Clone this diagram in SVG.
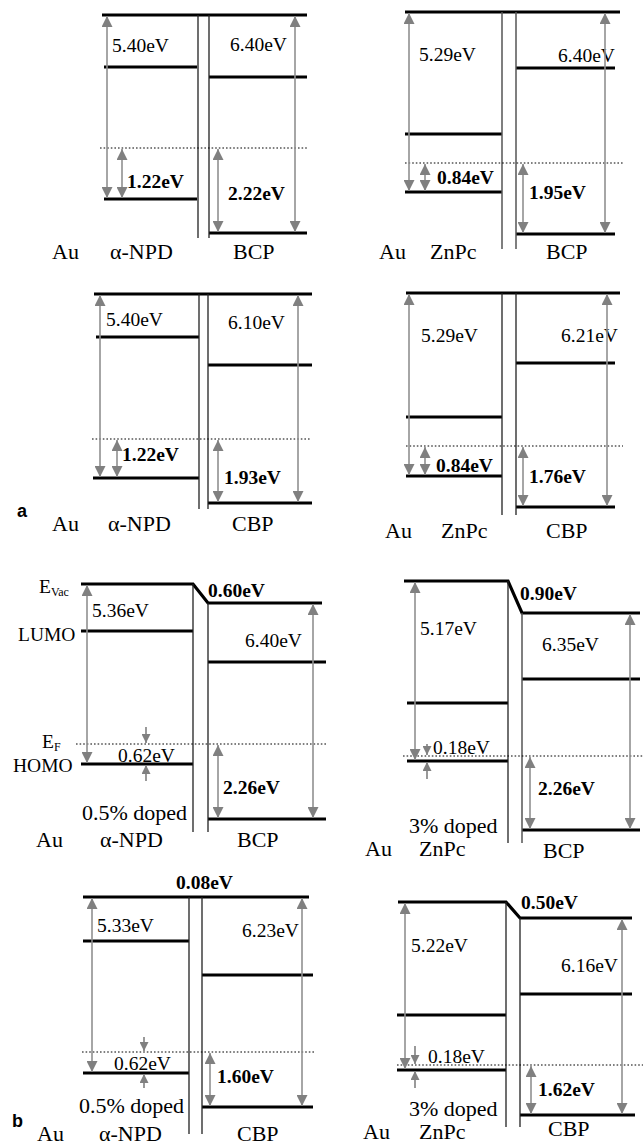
<svg xmlns="http://www.w3.org/2000/svg" width="643" height="1144" viewBox="0 0 643 1144">
<style>
.lv{stroke:#000;stroke-width:3.2;fill:none}
.vl{stroke:#222;stroke-width:1.3;fill:none}
.vg{stroke:#555;stroke-width:1.5;fill:none}
.dt{stroke:#000;stroke-width:1;stroke-dasharray:1.6,2;fill:none}
.ar{stroke:#909090;stroke-width:1.6;fill:none;marker-start:url(#ah);marker-end:url(#ah)}
.as{stroke:#808080;stroke-width:1.6;fill:none;marker-end:url(#ahs)}
text{font-family:"Liberation Serif","Times New Roman",serif;fill:#000}
.v{font-size:19.5px}
.b{font-size:19.5px;font-weight:bold}
.l{font-size:22px}
.s{font-size:19.5px}
.sub{font-size:12px}
.p{font-family:"Liberation Sans",Arial,sans-serif;font-weight:bold;font-size:18px}
</style>
<defs>
<marker id="ah" markerUnits="userSpaceOnUse" markerWidth="11" markerHeight="11" refX="10" refY="5" orient="auto-start-reverse" viewBox="0 0 10 10"><path d="M0,0 L10,5 L0,10 z" fill="#808080"/></marker>
<marker id="ahs" markerUnits="userSpaceOnUse" markerWidth="9" markerHeight="9" refX="10" refY="5" orient="auto" viewBox="0 0 10 10"><path d="M0,0 L10,5 L0,10 z" fill="#808080"/></marker>
</defs>

<g id="panel-a1">
<path class="lv" d="M102,15H307M104,67H197M104,199H197M209,77H307M209,233H307"/>
<path class="vl" d="M198,15V238M209,15V238"/>
<path class="dt" d="M100,148H307"/>
<text class="v" x="112" y="52">5.40eV</text>
<text class="v" x="230" y="51">6.40eV</text>
<text class="b" x="127" y="188">1.22eV</text>
<text class="b" x="228" y="200">2.22eV</text>
<text class="l" x="52" y="259">Au</text>
<text class="l" x="110" y="259">α-NPD</text>
<text class="l" x="233" y="259">BCP</text>
</g>

<g id="panel-a2">
<path class="lv" d="M405,12H620M405,134H502M405,192H502M516,68H615M516,234H615"/>
<path class="vg" d="M502,12V249M516,12V249"/>
<path class="dt" d="M405,163H623"/>
<text class="v" x="419" y="61">5.29eV</text>
<text class="v" x="558" y="62">6.40eV</text>
<text class="b" x="437" y="184">0.84eV</text>
<text class="b" x="529" y="199">1.95eV</text>
<text class="l" x="379" y="259">Au</text>
<text class="l" x="430" y="259">ZnPc</text>
<text class="l" x="546" y="259">BCP</text>
</g>

<g id="panel-a3">
<path class="lv" d="M94,294H312M96,337H199M93,478H199M208,365H312M208,503H312"/>
<path class="vl" d="M199,294V509M208,294V509"/>
<path class="dt" d="M92,439H310"/>
<text class="v" x="106" y="326">5.40eV</text>
<text class="v" x="228" y="329">6.10eV</text>
<text class="b" x="122" y="461">1.22eV</text>
<text class="b" x="224" y="484">1.93eV</text>
<text class="p" x="17" y="517">a</text>
<text class="l" x="52" y="531">Au</text>
<text class="l" x="108" y="531">α-NPD</text>
<text class="l" x="232" y="531">CBP</text>
</g>

<g id="panel-a4">
<path class="lv" d="M406,293H620M406,417H502M406,476H502M516,363H615M516,507H615"/>
<path class="vl" d="M502,293V515M516,293V515"/>
<path class="dt" d="M406,446H623"/>
<text class="v" x="421" y="342">5.29eV</text>
<text class="v" x="561" y="342">6.21eV</text>
<text class="b" x="436" y="472">0.84eV</text>
<text class="b" x="529" y="483">1.76eV</text>
<text class="l" x="385" y="538">Au</text>
<text class="l" x="441" y="538">ZnPc</text>
<text class="l" x="546" y="538">CBP</text>
</g>

<g id="panel-b1">
<path class="lv" d="M81,584H193L208,603H322M81,631H193M81,764H193M208,662H326M208,819H326"/>
<path class="vl" d="M193,584V832M208,603V832"/>
<path class="dt" d="M76,744H327"/>
<text class="s" x="39" y="593">E<tspan class="sub" dy="3">Vac</tspan></text>
<text class="s" x="18" y="641">LUMO</text>
<text class="s" x="42" y="748">E<tspan class="sub" dy="3">F</tspan></text>
<text class="s" x="13" y="772">HOMO</text>
<text class="v" x="92" y="617">5.36eV</text>
<text class="b" x="208" y="597">0.60eV</text>
<text class="v" x="245" y="647">6.40eV</text>
<text class="v" x="118" y="762">0.62eV</text>
<text class="b" x="223" y="794">2.26eV</text>
<text class="l" x="82" y="820">0.5% doped</text>
<text class="l" x="36" y="847">Au</text>
<text class="l" x="100" y="847">α-NPD</text>
<text class="l" x="237" y="847">BCP</text>
</g>

<g id="panel-b2">
<path class="lv" d="M404,581H508L522,613H640M407,703H508M407,761H508M522,679H640M522,830H640"/>
<path class="vl" d="M508,581V843"/>
<path class="vg" d="M522,613V843"/>
<path class="dt" d="M403,756H643"/>
<text class="v" x="420" y="635">5.17eV</text>
<text class="b" x="520" y="600">0.90eV</text>
<text class="v" x="542" y="651">6.35eV</text>
<text class="v" x="433" y="754">0.18eV</text>
<text class="b" x="538" y="795">2.26eV</text>
<text class="l" x="409" y="833">3% doped</text>
<text class="l" x="365" y="856">Au</text>
<text class="l" x="419" y="856">ZnPc</text>
<text class="l" x="543" y="858">BCP</text>
</g>

<g id="panel-b3">
<path class="lv" d="M83,897H309M83,941H189M83,1073H189M202,975H313M202,1107H313"/>
<path class="vl" d="M189,897V1134M202,897V1134"/>
<path class="dt" d="M82,1052H316"/>
<text class="b" x="176" y="889">0.08eV</text>
<text class="v" x="97" y="932">5.33eV</text>
<text class="v" x="242" y="937">6.23eV</text>
<text class="v" x="114" y="1070">0.62eV</text>
<text class="b" x="217" y="1083">1.60eV</text>
<text class="l" x="79" y="1113">0.5% doped</text>
<text class="p" x="12" y="1127">b</text>
<text class="l" x="37" y="1141">Au</text>
<text class="l" x="99" y="1141">α-NPD</text>
<text class="l" x="237" y="1141">CBP</text>
</g>

<g id="panel-b4">
<path class="lv" d="M398,902H506L520,918H632M397,1015H506M397,1070H506M520,994H632M520,1115H635"/>
<path class="vl" d="M506,902V1127M520,918V1127"/>
<path class="dt" d="M397,1065H643"/>
<text class="b" x="521" y="909">0.50eV</text>
<text class="v" x="411" y="952">5.22eV</text>
<text class="v" x="561" y="972">6.16eV</text>
<text class="v" x="428" y="1063">0.18eV</text>
<text class="b" x="538" y="1096">1.62eV</text>
<text class="l" x="409" y="1116">3% doped</text>
<text class="l" x="363" y="1139">Au</text>
<text class="l" x="419" y="1139">ZnPc</text>
<text class="l" x="548" y="1136">CBP</text>
</g>

<g id="connectors">
<path class="ar" d="M107,16V198"/>
<path class="ar" d="M122,149V198"/>
<path class="ar" d="M218,149V232"/>
<path class="ar" d="M295,16V232"/>

<path class="ar" d="M409,13V191"/>
<path class="ar" d="M425,164V191"/>
<path class="ar" d="M523,164V233"/>
<path class="ar" d="M605,13V233"/>

<path class="ar" d="M100,295V477"/>
<path class="ar" d="M117,440V477"/>
<path class="ar" d="M218,440V502"/>
<path class="ar" d="M298,295V502"/>

<path class="ar" d="M409,294V475"/>
<path class="ar" d="M425,447V475"/>
<path class="ar" d="M523,447V506"/>
<path class="ar" d="M607,294V506"/>

<path class="ar" d="M87,585V763"/>
<path class="as" d="M146,727V743"/>
<path class="as" d="M146,781V765"/>
<path class="ar" d="M218,745V818"/>
<path class="ar" d="M313,604V818"/>

<path class="ar" d="M415,582V760"/>
<path class="as" d="M427,744V755"/>
<path class="as" d="M427,779V762"/>
<path class="ar" d="M530,757V829"/>
<path class="ar" d="M630,614V829"/>

<path class="ar" d="M92,898V1072"/>
<path class="as" d="M144,1037V1051"/>
<path class="as" d="M144,1088V1074"/>
<path class="ar" d="M210,1053V1106"/>
<path class="ar" d="M302,898V1106"/>

<path class="ar" d="M405,903V1069"/>
<path class="as" d="M415,1046V1064"/>
<path class="as" d="M415,1088V1071"/>
<path class="ar" d="M531,1066V1114"/>
<path class="ar" d="M622,919V1114"/>
</g>
</svg>
